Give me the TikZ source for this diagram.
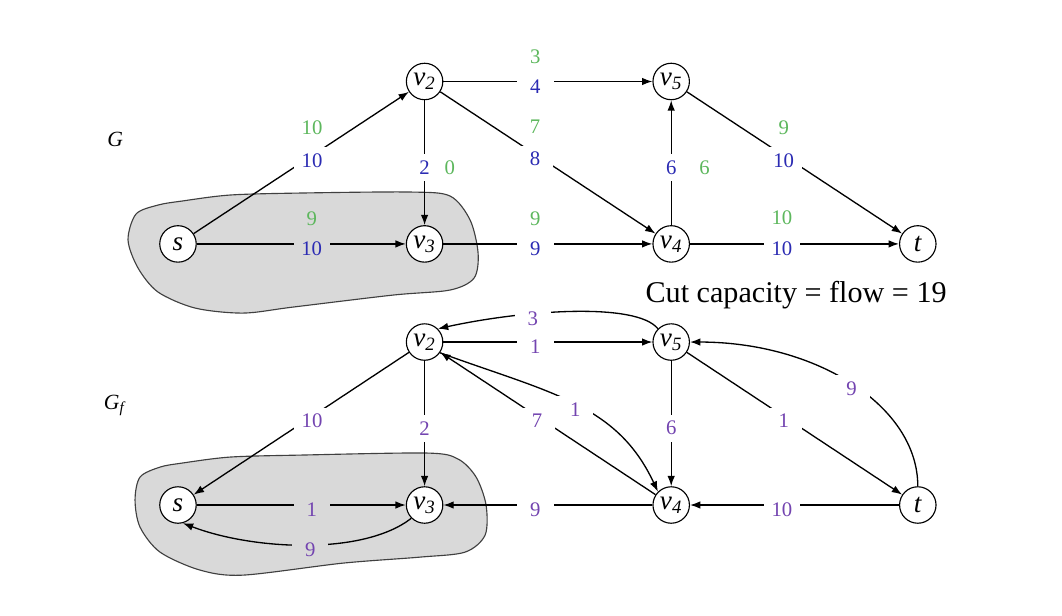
\documentclass[tikz,border=0pt]{standalone}
\usepackage{fontspec}
\setmainfont{Liberation Serif}
\usetikzlibrary{arrows,arrows.meta,positioning,calc}
\definecolor{CapBlue}{HTML}{2B2BB3}
\definecolor{FlowGreen}{HTML}{5DB75D}
\definecolor{ResPurple}{HTML}{7344B0}
\definecolor{CutGray}{HTML}{D9D9D9}
\tikzset{
    vertex/.style = {draw, circle, fill=white, line width=0.6pt,
        minimum size=0.68cm, inner sep=0pt, font=\Large},
    capnum/.style = {fill=white, minimum width=0.68cm, minimum height=0.5cm,
        inner sep=1pt, yshift=-2.5pt, text=CapBlue, font=\fontsize{11}{13}\selectfont},
    resnum/.style = {capnum, text=ResPurple},
    flownum/.style = {text=FlowGreen, font=\fontsize{11}{13}\selectfont},
    incut/.style = {fill=CutGray},
    cutset/.style = {draw=black!75, fill=CutGray, line width=0.6pt},
    graphname/.style = {font=\fontsize{11.5}{13}\selectfont}
}
\newcommand{\vx}[1]{\textit{v}\textsubscript{\textit{#1}}}

\begin{document}
\begin{tikzpicture}[>={Latex[length=5.5pt,width=4pt]}, node distance=4.6cm, line width=0.7pt]
    \useasboundingbox (0,0) rectangle (19.81,-11.49);
    % the two cuts
    \draw[cutset] plot[smooth cycle] coordinates {(2.388,-4.478) (2.537,-3.993) (2.948,-3.825) (3.396,-3.750) (4.291,-3.638) (5.597,-3.601) (7.649,-3.582) (8.396,-3.657) (8.769,-4.104) (8.918,-4.720) (8.843,-5.187) (8.396,-5.410) (7.332,-5.504) (5.466,-5.728) (4.534,-5.840) (3.638,-5.746) (2.948,-5.448) (2.575,-5.000)};
    \draw[cutset] plot[smooth cycle] coordinates {(2.519,-9.328) (2.612,-8.899) (2.985,-8.713) (3.396,-8.638) (4.291,-8.526) (5.597,-8.489) (7.966,-8.451) (8.545,-8.563) (8.881,-8.899) (9.067,-9.422) (9.049,-9.981) (8.675,-10.299) (7.836,-10.392) (6.399,-10.504) (4.534,-10.728) (3.731,-10.634) (2.985,-10.299) (2.612,-9.832)};

    % flow network G
    \node [graphname] (nameG) at (2.15,-2.61) {\textit{G}};
    \node [vertex] (s) at (3.32,-4.55) {\textit{s}};
    \node [vertex, right of=s] (v3) {\vx{3}};
    \node [vertex, right of=v3] (v4) {\vx{4}};
    \node [vertex, right of=v4] (t) {\textit{t}};
    \node [vertex, node distance=3.03cm, above of=v3] (v2) {\vx{2}};
    \node [vertex, node distance=3.03cm, above of=v4] (v5) {\vx{5}};
    \draw [->] (s) -- node[capnum, pos=0.55] (c1) {10} (v2);
    \draw [->] (v2) -- node[capnum, pos=0.44] (c2) {4} (v5);
    \draw [->] (v2) -- node[capnum, pos=0.5] (c3) {2} (v3);
    \draw [->] (v2) -- node[capnum, pos=0.44] (c4) {8} (v4);
    \draw [->] (s) -- node[capnum, incut, pos=0.55] (c5) {10} (v3);
    \draw [->] (v3) -- node[capnum, pos=0.44] (c6) {9} (v4);
    \draw [->] (v4) -- node[capnum, pos=0.5] (c7) {6} (v5);
    \draw [->] (v5) -- node[capnum, pos=0.45] (c8) {10} (t);
    \draw [->] (v4) -- node[capnum, pos=0.44] (c9) {10} (t);
    \node [flownum, node distance=0.6cm, above of=c1] (f1) {10};
    \node [flownum, node distance=0.55cm, above of=c2] (f2) {3};
    \node [flownum, node distance=0.47cm, right of=c3] (f3) {0};
    \node [flownum, node distance=0.6cm, above of=c4] (f4) {7};
    \node [flownum, node distance=0.55cm, above of=c5] (f5) {9};
    \node [flownum, node distance=0.55cm, above of=c6] (f6) {9};
    \node [flownum, node distance=0.62cm, right of=c7] (f7) {6};
    \node [flownum, node distance=0.6cm, above of=c8] (f8) {9};
    \node [flownum, node distance=0.58cm, above of=c9] (f9) {10};

    \node [font=\fontsize{16}{18}\selectfont] (cutval) at (14.85,-5.50) {Cut capacity = flow = 19};

    % residual network G_f
    \node [graphname] (nameGf) at (2.15,-7.56) {\textit{G}\textsubscript{\textit{f}}};
    \node [vertex] (rs) at (3.32,-9.42) {\textit{s}};
    \node [vertex, right of=rs] (rv3) {\vx{3}};
    \node [vertex, right of=rv3] (rv4) {\vx{4}};
    \node [vertex, right of=rv4] (rt) {\textit{t}};
    \node [vertex, node distance=3.04cm, above of=rv3] (rv2) {\vx{2}};
    \node [vertex, node distance=3.04cm, above of=rv4] (rv5) {\vx{5}};
    \draw [->] (rv5.north west) .. controls +(-0.4,0.5) and +(1.6,0.35) .. node[resnum, pos=0.65] (r1) {3} (rv2.north east);
    \draw [->] (rv2) -- node[resnum, pos=0.44] (r2) {1} (rv5);
    \draw [->] (rv2) -- node[resnum, pos=0.45] (r3) {10} (rs);
    \draw [->] (rv2) -- node[resnum, pos=0.5] (r4) {2} (rv3);
    \draw [->] (rv4) -- node[resnum, pos=0.55] (r5) {7} (rv2);
    \draw [->] (rv2.-35) .. controls +(-20:2.2) and +(115:1.8) .. node[resnum, pos=0.5] (r6) {1} (rv4.135);
    \draw [->] (rv5) -- node[resnum, pos=0.5] (r7) {6} (rv4);
    \draw [->] (rv5) -- node[resnum, pos=0.45] (r8) {1} (rt);
    \draw [->] (rt.north) .. controls +(0,1.49) and +(2.37,0) .. node[resnum, pos=0.5] (r9) {9} (rv5.east);
    \draw [->] (rv4) -- node[resnum, pos=0.56] (r10) {9} (rv3);
    \draw [->] (rt) -- node[resnum, pos=0.56] (r11) {10} (rv4);
    \draw [->] (rs) -- node[resnum, incut, pos=0.55] (r12) {1} (rv3);
    \draw [->] (rv3.south west) .. controls +(-0.9,-0.7) and +(1.3,-0.5) .. node[resnum, incut, pos=0.48] (r13) {9} (rs.-75);
\end{tikzpicture}
\end{document}
